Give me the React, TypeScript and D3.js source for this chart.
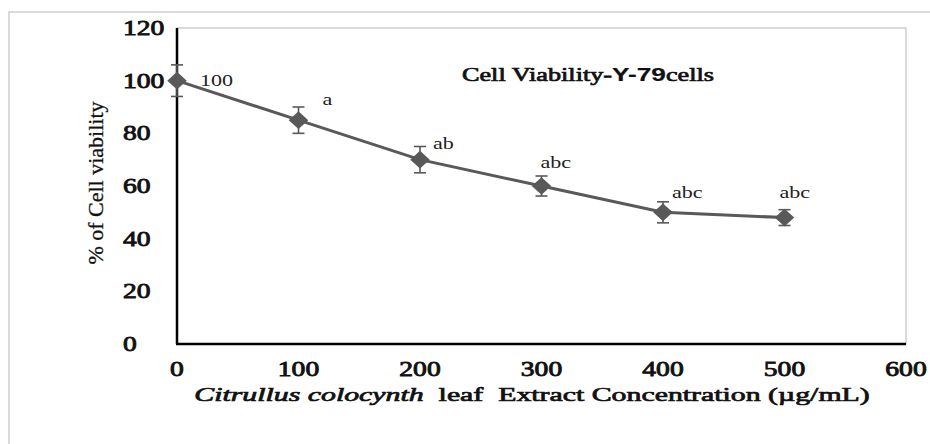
import React, { useRef, useEffect } from 'react';
import * as d3 from 'd3';

// concentration (µg/mL), viability (%), error (±), significance letters
const concentrations = [0, 100, 200, 300, 400, 500];
const viability = [100, 85, 70, 60, 50, 48];
const errors = [6, 5, 5, 3.8, 4, 3];
const letters = ['100', 'a', 'ab', 'abc', 'abc', 'abc'];
const labelOffsets: [number, number][] = [[23, 5], [24, -15], [13, -11], [-1, -18], [9, -14], [-5, -20]];

const xTicks = [0, 100, 200, 300, 400, 500, 600];
const yTicks = [0, 20, 40, 60, 80, 100, 120];

const App: React.FC = () => {
  const svgRef = useRef<SVGSVGElement | null>(null);

  useEffect(() => {
    if (!svgRef.current) return;
    const svg = d3.select(svgRef.current);
    svg.selectAll('*').remove();

    const width = 930;
    const height = 444;
    const plot = { left: 177, right: 906, top: 28, bottom: 344 };
    const serif = '"Liberation Serif", "Times New Roman", serif';
    const sans = '"Liberation Sans", Arial, sans-serif';
    const grey = '#595959';
    const stretch = 1.38; // the original picture is widened horizontally

    svg.attr('width', width).attr('height', height);

    const x = d3.scaleLinear().domain([0, 600]).range([plot.left, plot.right]);
    const y = d3.scaleLinear().domain([0, 120]).range([plot.bottom, plot.top]);

    // helper for horizontally stretched text
    const addText = (parent: d3.Selection<any, any, any, any>, tx: number, ty: number, size: number, sx = stretch) =>
      parent.append('text')
        .attr('transform', `translate(${tx},${ty}) scale(${sx},1)`)
        .attr('font-family', serif)
        .attr('font-size', `${size}px`)
        .attr('fill', '#111');
    // heavy serif look: regular face + thin outline
    const embolden = (t: d3.Selection<any, any, any, any>, w = 0.8) =>
      t.attr('stroke', '#111').attr('stroke-width', w).attr('paint-order', 'stroke');

    // outer frame (only top + left visible)
    svg.append('path')
      .attr('d', `M9,${height} L9,12 L${width},12`)
      .attr('fill', 'none')
      .attr('stroke', '#d0d0d0')
      .attr('stroke-width', 1.5);

    // plot area border
    svg.append('rect')
      .attr('x', plot.left)
      .attr('y', plot.top)
      .attr('width', plot.right - plot.left)
      .attr('height', plot.bottom - plot.top)
      .attr('fill', 'none')
      .attr('stroke', '#cfcfcf')
      .attr('stroke-width', 1.5);

    // axes
    svg.append('line')
      .attr('x1', plot.left).attr('x2', plot.left)
      .attr('y1', plot.top).attr('y2', plot.bottom)
      .attr('stroke', '#000').attr('stroke-width', 2.5);
    svg.append('line')
      .attr('x1', plot.left - 1).attr('x2', plot.right)
      .attr('y1', plot.bottom).attr('y2', plot.bottom)
      .attr('stroke', '#000').attr('stroke-width', 2.5);

    // tick labels
    yTicks.forEach(t => {
      embolden(addText(svg, 123, y(t) + 7, 20)).text(t);
    });
    xTicks.forEach(t => {
      embolden(addText(svg, x(t), 376, 20)).attr('text-anchor', 'middle').text(t);
    });

    // axis titles
    svg.append('text')
      .attr('transform', 'translate(103,183) rotate(-90)')
      .attr('text-anchor', 'middle')
      .attr('font-family', serif)
      .attr('font-size', '22px')
      .attr('fill', '#111')
      .attr('stroke', '#111')
      .attr('stroke-width', 0.3)
      .text('% of Cell viability');

    const xTitle = embolden(addText(svg, 532, 401, 19.5, 1.53), 0.7)
      .attr('text-anchor', 'middle')
      .attr('xml:space', 'preserve');
    xTitle.append('tspan').attr('font-style', 'italic').text('Citrullus colocynth');
    xTitle.append('tspan').text('  leaf  Extract Concentration (µg/mL)');

    // chart title
    const title = embolden(addText(svg, 462, 81, 19), 0.7);
    title.append('tspan').text('Cell Viability-');
    title.append('tspan').attr('font-family', sans).attr('font-weight', 'bold').attr('stroke-width', 0.2).text('Y-79');
    title.append('tspan').text('cells');

    const pts = concentrations.map((c, i) => ({ c, v: viability[i], e: errors[i], label: letters[i], off: labelOffsets[i] }));

    // error bars
    const eb = svg.append('g').attr('stroke', grey).attr('stroke-width', 1.6);
    pts.forEach(p => {
      const cx = x(p.c);
      eb.append('line').attr('x1', cx).attr('x2', cx).attr('y1', y(p.v + p.e)).attr('y2', y(p.v - p.e));
      eb.append('line').attr('x1', cx - 6).attr('x2', cx + 6).attr('y1', y(p.v + p.e)).attr('y2', y(p.v + p.e));
      eb.append('line').attr('x1', cx - 6).attr('x2', cx + 6).attr('y1', y(p.v - p.e)).attr('y2', y(p.v - p.e));
    });

    // line
    const line = d3.line<typeof pts[0]>().x(d => x(d.c)).y(d => y(d.v));
    svg.append('path')
      .datum(pts)
      .attr('d', line)
      .attr('fill', 'none')
      .attr('stroke', grey)
      .attr('stroke-width', 3);

    // diamond markers
    const diamond = d3.symbol().type(d3.symbolDiamond2).size(200);
    svg.append('g').selectAll('path')
      .data(pts)
      .join('path')
      .attr('transform', d => `translate(${x(d.c)},${y(d.v)}) scale(1.1,1)`)
      .attr('d', diamond)
      .attr('fill', grey);

    // letters
    const lab = svg.append('g');
    pts.forEach(p => {
      addText(lab, x(p.c) + p.off[0], y(p.v) + p.off[1], 16).attr('fill', '#222').text(p.label);
    });
  }, []);

  return (
    <svg ref={svgRef} style={{ position: 'absolute', left: 0, top: 0, display: 'block' }}></svg>
  );
};

export default App;
